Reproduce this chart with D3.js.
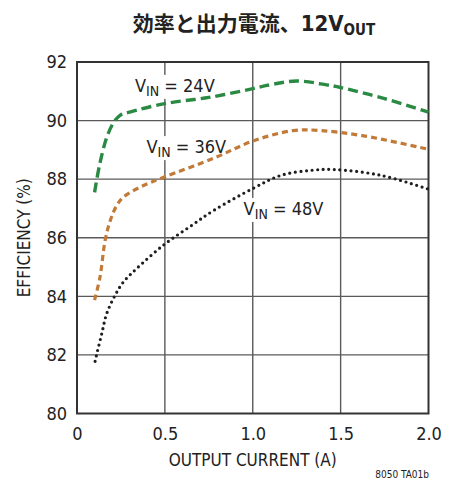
<!DOCTYPE html>
<html>
<head>
<meta charset="utf-8">
<script src="https://cdn.jsdelivr.net/npm/d3@7"></script>
<style>
  html, body { margin: 0; padding: 0; background: #fff; }
  svg text { font-family: "Liberation Sans Narrow", "DejaVu Sans Condensed", "Roboto", sans-serif; fill: #222; }
</style>
</head>
<body>
<svg id="chart" width="451" height="481"></svg>
<script>
// Output current (A) and efficiency (%) for each input voltage
const current24 = [0.10, 0.13, 0.17, 0.21, 0.245, 0.30, 0.50, 0.75, 1.00, 1.08, 1.25, 1.42, 1.50, 1.75, 2.00];
const eff24     = [87.55, 88.53, 89.44, 89.95, 90.18, 90.29, 90.58, 90.79, 91.09, 91.20, 91.35, 91.22, 91.13, 90.75, 90.29];

const current36 = [0.10, 0.131, 0.16, 0.19, 0.226, 0.264, 0.36, 0.50, 0.78, 1.00, 1.23, 1.385, 1.63, 2.00];
const eff36     = [83.87, 84.66, 85.91, 86.6, 87.10, 87.39, 87.73, 88.08, 88.72, 89.30, 89.66, 89.66, 89.48, 89.02];

const current48 = [0.103, 0.112, 0.141, 0.169, 0.217, 0.264, 0.34, 0.49, 0.64, 0.78, 1.00, 1.16, 1.33, 1.46, 1.73, 2.00];
const eff48     = [81.78, 82.02, 82.73, 83.41, 84.04, 84.49, 84.95, 85.74, 86.37, 86.94, 87.68, 88.13, 88.30, 88.33, 88.13, 87.66];

const xTicks = [0, 0.5, 1.0, 1.5, 2.0];
const xTickLabels = ["0", "0.5", "1.0", "1.5", "2.0"];
const yTicks = [80, 82, 84, 86, 88, 90, 92];
const seriesNames = ["24V", "36V", "48V"];

const svg = d3.select("#chart");

const x = d3.scaleLinear().domain([0, 2]).range([77, 428.5]);
const y = d3.scaleLinear().domain([80, 92]).range([413.5, 62]);

// grid
const grid = svg.append("g");
grid.selectAll("line.v").data(xTicks.slice(1, -1)).join("line")
  .attr("x1", d => x(d)).attr("x2", d => x(d))
  .attr("y1", y(80)).attr("y2", y(92))
  .attr("stroke", "#5a5a5a").attr("stroke-width", 1.4);
grid.selectAll("line.h").data(yTicks.slice(1, -1)).join("line")
  .attr("x1", x(0)).attr("x2", x(2))
  .attr("y1", d => y(d)).attr("y2", d => y(d))
  .attr("stroke", "#5a5a5a").attr("stroke-width", 1.4);

// frame
svg.append("rect")
  .attr("x", x(0)).attr("y", y(92))
  .attr("width", x(2) - x(0)).attr("height", y(80) - y(92))
  .attr("fill", "none").attr("stroke", "#333").attr("stroke-width", 2);

// axes (labels only)
const xAxis = d3.axisBottom(x).tickValues(xTicks).tickFormat((d, i) => xTickLabels[i]).tickSize(0).tickPadding(14);
const gx = svg.append("g").attr("transform", `translate(0,${y(80)})`).call(xAxis);
gx.select(".domain").remove();
gx.selectAll("text").attr("font-size", 18).attr("fill", "#222")
  .attr("font-family", '"Liberation Sans Narrow", "DejaVu Sans Condensed", sans-serif');

const yAxis = d3.axisLeft(y).tickValues(yTicks).tickFormat(d3.format("d")).tickSize(0).tickPadding(10);
const gy = svg.append("g").attr("transform", `translate(${x(0)},0)`).call(yAxis);
gy.select(".domain").remove();
gy.selectAll("text").attr("font-size", 18).attr("fill", "#222")
  .attr("font-family", '"Liberation Sans Narrow", "DejaVu Sans Condensed", sans-serif');

// curves
const line = d3.line().x(d => x(d[0])).y(d => y(d[1])).curve(d3.curveCatmullRom.alpha(0.5));
const zip = (a, b) => a.map((v, i) => [v, b[i]]);

const labelBg = svg.append("g");

svg.append("path").datum(zip(current48, eff48)).attr("d", line)
  .attr("fill", "none").attr("stroke", "#1e1e1e").attr("stroke-width", 3.2)
  .attr("stroke-linecap", "round").attr("stroke-dasharray", "0 5.6");
svg.append("path").datum(zip(current36, eff36)).attr("d", line)
  .attr("fill", "none").attr("stroke", "#c27a38").attr("stroke-width", 3.2)
  .attr("stroke-dasharray", "6 4");
svg.append("path").datum(zip(current24, eff24)).attr("d", line)
  .attr("fill", "none").attr("stroke", "#2a8a44").attr("stroke-width", 3.4)
  .attr("stroke-dasharray", "10 5");

// series labels: V_IN = ...
const labelPos = [[0.33, 90.98], [0.395, 88.89], [0.948, 86.78]];
seriesNames.forEach((name, i) => {
  const t = svg.append("text")
    .attr("x", x(labelPos[i][0])).attr("y", y(labelPos[i][1]))
    .attr("font-size", 18);
  t.append("tspan").text("V");
  t.append("tspan").text("IN").attr("font-size", 14).attr("dy", 4);
  t.append("tspan").text(" = " + name).attr("dy", -4);
  const bb = t.node().getBBox();
  labelBg.append("rect").attr("x", bb.x - 2).attr("y", bb.y)
    .attr("width", bb.width + 4).attr("height", bb.height)
    .attr("fill", "#fff");
});

// axis titles
svg.append("text").attr("x", (x(0) + x(2)) / 2).attr("y", 466)
  .attr("text-anchor", "middle").attr("font-size", 17).text("OUTPUT CURRENT (A)");
svg.append("text").attr("transform", `translate(30,${(y(80) + y(92)) / 2}) rotate(-90)`)
  .attr("text-anchor", "middle").attr("font-size", 17).text("EFFICIENCY (%)");

// title
const title = svg.append("text").attr("x", 254).attr("y", 31).attr("text-anchor", "middle")
  .attr("font-weight", "bold");
title.append("tspan").text("効率と出力電流、")
  .attr("font-family", '"Noto Sans CJK JP", sans-serif').attr("font-size", 21);
title.append("tspan").text("12V").attr("font-size", 22);
title.append("tspan").text("OUT").attr("font-size", 15).attr("dy", 4);

// drawing code
svg.append("text").attr("x", 429).attr("y", 478).attr("text-anchor", "end")
  .attr("font-size", 10).attr("fill", "#333").text("8050 TA01b");
</script>
</body>
</html>
